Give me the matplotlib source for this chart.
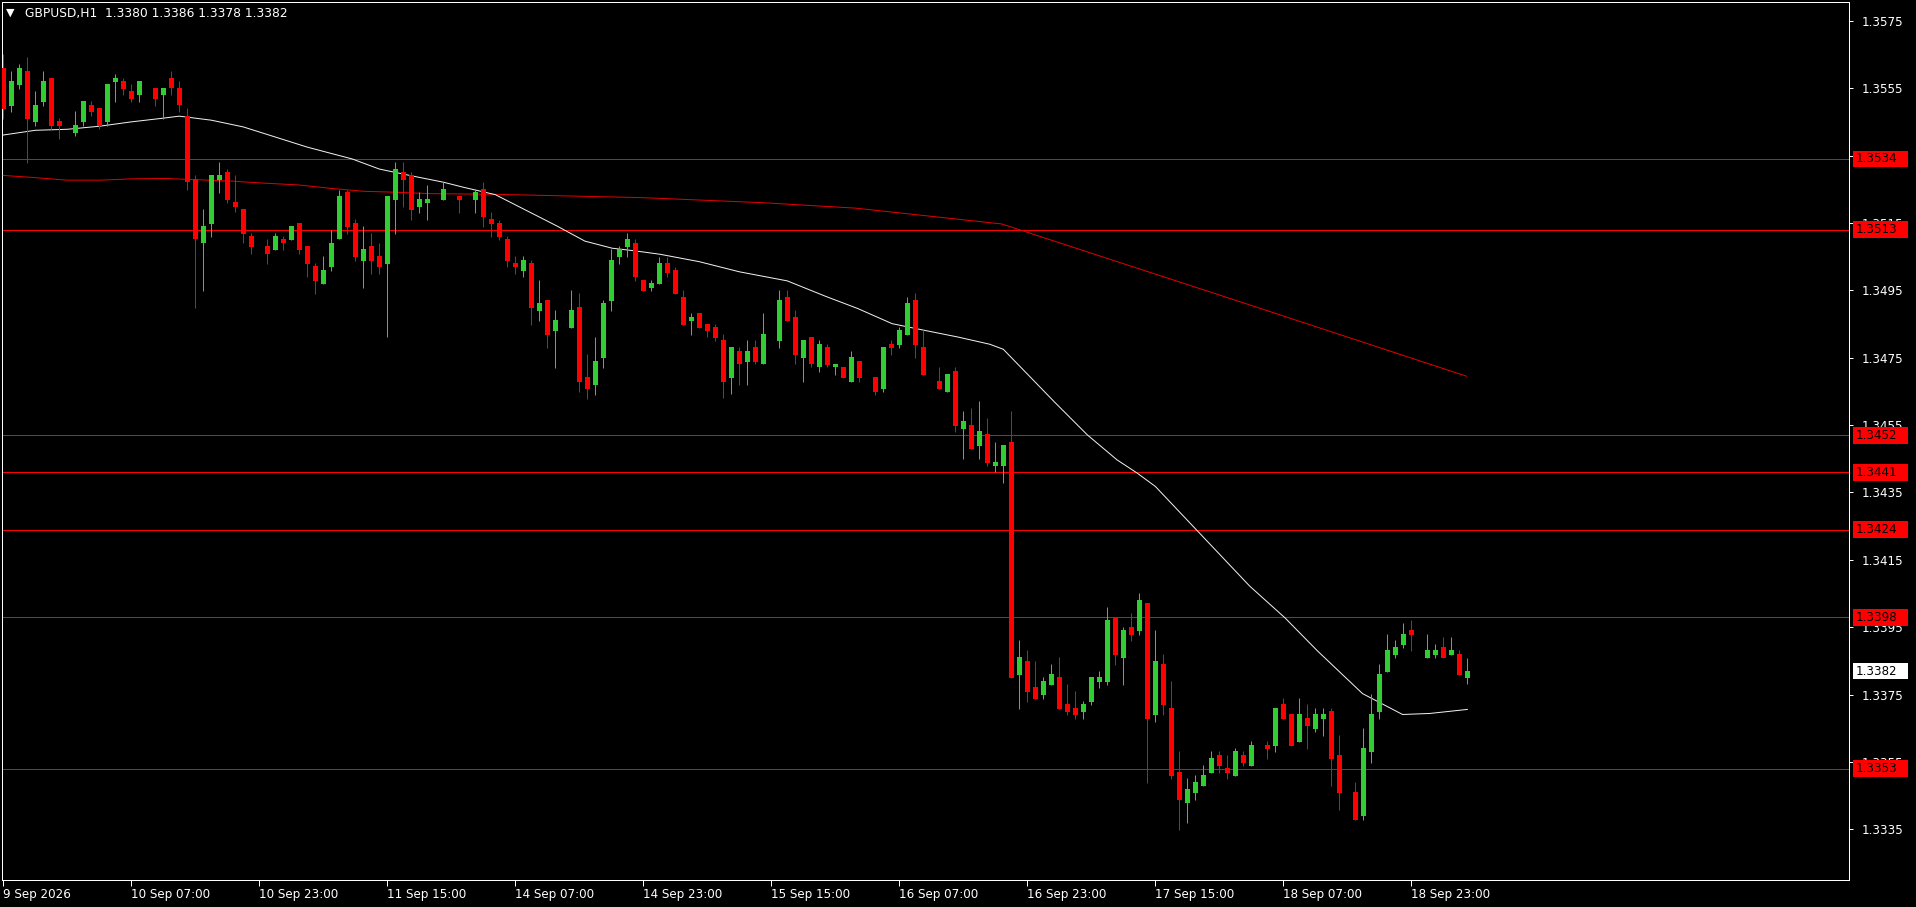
import numpy as np
import matplotlib
matplotlib.use("Agg")
import matplotlib.pyplot as plt
import matplotlib.transforms as mtransforms
from matplotlib.patches import Rectangle

nan = np.nan

# GBPUSD H1 candles, 9 Sep 15:00 .. last bar (nan = doji, drawn invisible in the terminal)
opens = [
    1.35610, 1.35497, 1.35559, 1.35601, 1.35450, 1.35509, 1.35580, 1.35453, nan, 1.35417,
    1.35450, 1.35500, 1.35491, 1.35450, 1.35568, 1.35571, 1.35542, 1.35530, nan, 1.35551,
    1.35530, 1.35580, 1.35550, 1.35467, 1.35280, 1.35089, 1.35148, 1.35277, 1.35301, 1.35212,
    1.35191, 1.35111, nan, 1.35082, 1.35071, 1.35102, 1.35100, 1.35150, 1.35082, 1.35022,
    1.34970, 1.35020, 1.35101, 1.35242, 1.35150, 1.35038, 1.35082, 1.35052, 1.35029, 1.35218,
    1.35300, 1.35292, 1.35197, 1.35209, nan, 1.35218, nan, 1.35230, nan, 1.35218,
    1.35251, 1.35162, 1.35150, 1.35102, 1.35031, 1.35007, 1.35031, 1.34889, 1.34921, 1.34829,
    nan, 1.34838, 1.34901, 1.34693, 1.34669, 1.34749, 1.34918, 1.35049, 1.35079, 1.35090,
    1.34981, 1.34957, 1.34969, 1.35030, 1.35010, 1.34930, 1.34860, 1.34883, 1.34850, 1.34841,
    1.34803, 1.34691, 1.34770, 1.34738, 1.34782, 1.34730, nan, 1.34801, 1.34930, 1.34871,
    1.34750, 1.34812, 1.34721, 1.34782, 1.34721, 1.34723, 1.34679, 1.34740, nan, 1.34693,
    1.34658, 1.34791, 1.34788, 1.34817, 1.34921, 1.34782, nan, 1.34681, 1.34648, 1.34711,
    1.34539, 1.34550, 1.34488, 1.34524, 1.34429, 1.34429, 1.34500, 1.33808, 1.33850, 1.33773,
    1.33749, 1.33779, 1.33803, 1.33722, 1.33711, 1.33699, 1.33729, 1.33788, 1.33788, 1.33978,
    1.33859, 1.33951, 1.33939, 1.34022, 1.33690, 1.33841, 1.33710, 1.33520, 1.33429, 1.33458,
    1.33479, 1.33517, 1.33571, 1.33532, 1.33509, 1.33571, 1.33538, nan, 1.33601, 1.33598,
    1.33722, 1.33693, 1.33610, 1.33681, 1.33648, 1.33678, 1.33701, 1.33571, nan, 1.33461,
    1.33390, 1.33580, 1.33698, 1.33817, 1.33867, 1.33897, 1.33942, nan, 1.33859, 1.33867,
    1.33891, 1.33867, 1.33871, 1.33800,
]
highs = [
    1.35651, 1.35601, 1.35622, 1.35643, 1.35542, 1.35601, 1.35580, 1.35462, nan, 1.35482,
    1.35512, 1.35512, 1.35491, 1.35562, 1.35592, 1.35580, 1.35562, 1.35571, nan, 1.35551,
    1.35551, 1.35600, 1.35570, 1.35490, 1.35292, 1.35191, 1.35292, 1.35331, 1.35310, 1.35292,
    1.35191, 1.35120, nan, 1.35102, 1.35120, 1.35111, 1.35141, 1.35150, 1.35082, 1.35031,
    1.35052, 1.35129, 1.35248, 1.35248, 1.35162, 1.35141, 1.35120, 1.35091, 1.35230, 1.35331,
    1.35331, 1.35301, 1.35242, 1.35263, nan, 1.35272, nan, 1.35230, nan, 1.35251,
    1.35272, 1.35183, 1.35160, 1.35111, 1.35052, 1.35052, 1.35040, 1.34981, 1.34921, 1.34892,
    nan, 1.34951, 1.34942, 1.34761, 1.34812, 1.34921, 1.35073, 1.35082, 1.35120, 1.35102,
    1.34981, 1.34981, 1.35050, 1.35050, 1.35020, 1.34951, 1.34883, 1.34883, 1.34850, 1.34850,
    1.34821, 1.34782, 1.34782, 1.34803, 1.34803, 1.34883, nan, 1.34951, 1.34951, 1.34892,
    1.34803, 1.34812, 1.34803, 1.34791, 1.34731, 1.34723, 1.34770, 1.34740, nan, 1.34693,
    1.34782, 1.34803, 1.34841, 1.34930, 1.34942, 1.34832, nan, 1.34723, 1.34702, 1.34723,
    1.34592, 1.34601, 1.34622, 1.34571, 1.34500, 1.34491, 1.34592, 1.33912, 1.33883, 1.33850,
    1.33803, 1.33841, 1.33862, 1.33782, 1.33761, 1.33731, 1.33803, 1.33821, 1.34010, 1.33978,
    1.33951, 1.33992, 1.34052, 1.34022, 1.33942, 1.33871, 1.33791, 1.33583, 1.33503, 1.33512,
    1.33541, 1.33583, 1.33583, 1.33571, 1.33592, 1.33583, 1.33612, nan, 1.33612, 1.33710,
    1.33740, 1.33693, 1.33740, 1.33722, 1.33710, 1.33711, 1.33711, 1.33630, nan, 1.33491,
    1.33651, 1.33752, 1.33841, 1.33930, 1.33912, 1.33962, 1.33971, nan, 1.33930, 1.33900,
    1.33921, 1.33921, 1.33882, 1.33860,
]
lows = [
    1.35459, 1.35479, 1.35548, 1.35328, 1.35438, 1.35497, 1.35429, 1.35399, nan, 1.35408,
    1.35438, 1.35467, 1.35429, 1.35438, 1.35509, 1.35530, 1.35509, 1.35509, nan, 1.35497,
    1.35459, 1.35530, 1.35480, 1.35249, 1.34899, 1.34949, 1.35109, 1.35240, 1.35210, 1.35182,
    1.35089, 1.35058, nan, 1.35028, 1.35071, 1.35071, 1.35100, 1.35059, 1.34991, 1.34940,
    1.34970, 1.35008, 1.35101, 1.35118, 1.35038, 1.34958, 1.34999, 1.34999, 1.34810, 1.35117,
    1.35197, 1.35159, 1.35180, 1.35159, nan, 1.35218, nan, 1.35180, nan, 1.35180,
    1.35138, 1.35108, 1.35100, 1.35019, 1.34998, 1.34990, 1.34847, 1.34859, 1.34779, 1.34720,
    nan, 1.34838, 1.34648, 1.34628, 1.34639, 1.34720, 1.34889, 1.35028, 1.35049, 1.34978,
    1.34948, 1.34948, 1.34969, 1.34990, 1.34940, 1.34848, 1.34818, 1.34839, 1.34810, 1.34801,
    1.34629, 1.34641, 1.34670, 1.34670, 1.34730, 1.34730, nan, 1.34780, 1.34860, 1.34730,
    1.34679, 1.34721, 1.34709, 1.34721, 1.34700, 1.34691, 1.34679, 1.34679, nan, 1.34640,
    1.34649, 1.34758, 1.34779, 1.34817, 1.34749, 1.34699, nan, 1.34657, 1.34648, 1.34530,
    1.34450, 1.34479, 1.34450, 1.34429, 1.34411, 1.34378, 1.33800, 1.33708, 1.33728, 1.33737,
    1.33737, 1.33779, 1.33708, 1.33690, 1.33678, 1.33678, 1.33720, 1.33770, 1.33779, 1.33838,
    1.33779, 1.33909, 1.33927, 1.33488, 1.33669, 1.33690, 1.33500, 1.33349, 1.33369, 1.33437,
    1.33479, 1.33517, 1.33517, 1.33500, 1.33509, 1.33538, 1.33538, nan, 1.33559, 1.33580,
    1.33678, 1.33598, 1.33610, 1.33589, 1.33639, 1.33627, 1.33479, 1.33408, nan, 1.33378,
    1.33378, 1.33547, 1.33678, 1.33817, 1.33859, 1.33888, 1.33879, nan, 1.33859, 1.33859,
    1.33859, 1.33867, 1.33808, 1.33780,
]
closes = [
    1.35488, 1.35571, 1.35610, 1.35459, 1.35500, 1.35571, 1.35438, 1.35438, nan, 1.35441,
    1.35512, 1.35479, 1.35438, 1.35562, 1.35580, 1.35548, 1.35518, 1.35571, nan, 1.35518,
    1.35551, 1.35550, 1.35500, 1.35271, 1.35101, 1.35141, 1.35292, 1.35292, 1.35219, 1.35198,
    1.35118, 1.35080, nan, 1.35059, 1.35111, 1.35089, 1.35141, 1.35071, 1.35029, 1.34979,
    1.35010, 1.35091, 1.35230, 1.35139, 1.35050, 1.35073, 1.35038, 1.35020, 1.35230, 1.35310,
    1.35277, 1.35188, 1.35221, 1.35221, nan, 1.35251, nan, 1.35218, nan, 1.35242,
    1.35168, 1.35147, 1.35108, 1.35037, 1.35019, 1.35040, 1.34898, 1.34912, 1.34817, 1.34862,
    nan, 1.34892, 1.34678, 1.34657, 1.34740, 1.34912, 1.35040, 1.35073, 1.35102, 1.34990,
    1.34948, 1.34972, 1.35031, 1.35000, 1.34940, 1.34848, 1.34871, 1.34839, 1.34830, 1.34809,
    1.34679, 1.34782, 1.34730, 1.34770, 1.34738, 1.34821, nan, 1.34921, 1.34860, 1.34759,
    1.34803, 1.34730, 1.34791, 1.34729, 1.34731, 1.34691, 1.34752, 1.34691, nan, 1.34649,
    1.34782, 1.34779, 1.34832, 1.34912, 1.34788, 1.34699, nan, 1.34657, 1.34702, 1.34547,
    1.34562, 1.34479, 1.34533, 1.34438, 1.34440, 1.34491, 1.33800, 1.33862, 1.33758, 1.33737,
    1.33791, 1.33811, 1.33708, 1.33699, 1.33690, 1.33722, 1.33803, 1.33803, 1.33972, 1.33868,
    1.33942, 1.33927, 1.34031, 1.33678, 1.33850, 1.33719, 1.33509, 1.33438, 1.33470, 1.33491,
    1.33512, 1.33562, 1.33538, 1.33517, 1.33583, 1.33547, 1.33601, nan, 1.33589, 1.33710,
    1.33678, 1.33598, 1.33693, 1.33657, 1.33693, 1.33692, 1.33559, 1.33458, nan, 1.33378,
    1.33592, 1.33692, 1.33811, 1.33882, 1.33891, 1.33930, 1.33927, nan, 1.33882, 1.33882,
    1.33859, 1.33882, 1.33808, 1.33820,
]

# moving averages, sampled at bar positions
fast_ma_bars = [0, 4, 8, 12, 16, 20, 22, 26, 30, 34, 38, 43.6, 47, 51, 55, 57.5, 61.5,
                69.2, 72.7, 76.1, 79, 82.1, 87, 92, 98, 102.7, 106.8, 111.1, 115.2, 119.4,
                123.3, 125, 131.5, 135.5, 139.2, 141.7, 144, 155.8, 160.2, 164.3,
                169.9, 174.9, 178.3, 183]
fast_ma = [1.35411, 1.35425, 1.35428, 1.35437, 1.35450, 1.35461, 1.35467, 1.35455, 1.35435,
           1.35405, 1.35375, 1.35340, 1.35310, 1.35290, 1.35271, 1.35256, 1.35234, 1.35141,
           1.35096, 1.35075, 1.35067, 1.35057, 1.35035, 1.35005, 1.34978, 1.34933, 1.34896,
           1.34851, 1.34831, 1.34811, 1.34790, 1.34775, 1.34616, 1.34521, 1.34447,
           1.34408, 1.34368, 1.34072, 1.33978, 1.33879, 1.33753, 1.33691, 1.33694, 1.33706]
slow_ma_bars = [0, 3.7, 8, 12.1, 16.2, 20.2, 25.6, 28.6, 32.7, 36.8, 40.8, 45, 49.2, 53.3,
                61.5, 80, 95, 106.5, 124.8, 154.6, 182.9]
slow_ma = [1.35291, 1.35285, 1.35277, 1.35277, 1.35281, 1.35282, 1.35277, 1.35274, 1.35268,
           1.35263, 1.35253, 1.35244, 1.35241, 1.35237, 1.35235, 1.35225, 1.35210, 1.35194,
           1.35147, 1.34916, 1.34695]

levels = [1.3534, 1.3513, 1.3452, 1.3441, 1.3424, 1.3398, 1.3353]
last_price = 1.3382
header = "GBPUSD,H1  1.3380 1.3386 1.3378 1.3382"

y_ticks = [1.3335, 1.3355, 1.3375, 1.3395, 1.3415, 1.3435, 1.3455, 1.3475,
           1.3495, 1.3515, 1.3535, 1.3555, 1.3575]
x_tick_bars = [0, 16, 32, 48, 64, 80, 96, 112, 128, 144, 160, 176]
x_tick_labels = ["9 Sep 2026", "10 Sep 07:00", "10 Sep 23:00", "11 Sep 15:00",
                 "14 Sep 07:00", "14 Sep 23:00", "15 Sep 15:00", "16 Sep 07:00",
                 "16 Sep 23:00", "17 Sep 15:00", "18 Sep 07:00", "18 Sep 23:00"]

GREEN = "#32CD32"
RED = "#FF0000"
TXT = "#FFFFFF"
PX = 0.72  # one pixel in points at dpi 100


def draw_candles(ax):
    o, h, l, c = (np.array(a) for a in (opens, highs, lows, closes))
    idx = np.arange(len(o))
    ok = ~np.isnan(o)
    up = ok & (c >= o)
    down = ok & (c < o)

    for mask, col in ((up, GREEN), (down, RED)):
        ax.vlines(idx[mask], l[mask], h[mask], color=col, lw=PX, zorder=4)
        bottom = np.minimum(o, c)[mask]
        height = np.maximum(np.abs(c - o)[mask], 0.00003)
        ax.bar(idx[mask], height, bottom=bottom, width=0.62, color=col,
               linewidth=0, zorder=4)


def draw_tags(ax):
    trans = mtransforms.blended_transform_factory(ax.transAxes, ax.transData)
    half = 0.00025
    tags = [(lvl, RED) for lvl in levels] + [(last_price, "#FFFFFF")]
    for lvl, col in tags:
        ax.add_patch(Rectangle((1.0022, lvl - half), 0.0298, 2 * half, transform=trans,
                               facecolor=col, edgecolor="none", clip_on=False, zorder=10))
        ax.text(1.0035, lvl, f"{lvl:.4f}", transform=trans, color="#000000",
                fontsize=8.6, va="center", ha="left", zorder=11, clip_on=False)


def main():
    fig = plt.figure(figsize=(19.16, 9.07), dpi=100, facecolor="black")
    ax = fig.add_axes([2 / 1916, 27 / 907, 1847 / 1916, 878 / 907], facecolor="black")

    # horizontal levels
    for lvl in levels:
        ax.axhline(lvl, color=RED, lw=PX, zorder=2)

    ax.plot(slow_ma_bars, slow_ma, color="#E00000", lw=PX, zorder=3)
    ax.plot(fast_ma_bars, fast_ma, color="#F0F0F0", lw=PX, zorder=3)

    draw_candles(ax)

    ax.set_xlim(-0.1625, 230.71)
    ax.set_ylim(1.331997, 1.358058)

    for sp in ax.spines.values():
        sp.set_color("white")
        sp.set_linewidth(PX)

    ax.yaxis.tick_right()
    ax.set_yticks(y_ticks)
    ax.set_yticklabels([f"{v:.4f}" for v in y_ticks])
    ax.tick_params(axis="y", colors=TXT, length=3, width=PX, pad=6, labelsize=8.6)

    ax.set_xticks(x_tick_bars)
    ax.set_xticklabels(x_tick_labels, ha="left")
    ax.tick_params(axis="x", colors=TXT, length=4, width=PX, pad=2, labelsize=8.6)

    draw_tags(ax)

    fig.text(6 / 1916, 1 - 13 / 907, "\u25BC", color=TXT, fontsize=8, va="center")
    fig.text(25 / 1916, 1 - 13 / 907, header, color=TXT, fontsize=8.8, va="center")

    fig.savefig("out.png", dpi=100, facecolor="black")


if __name__ == "__main__":
    main()
